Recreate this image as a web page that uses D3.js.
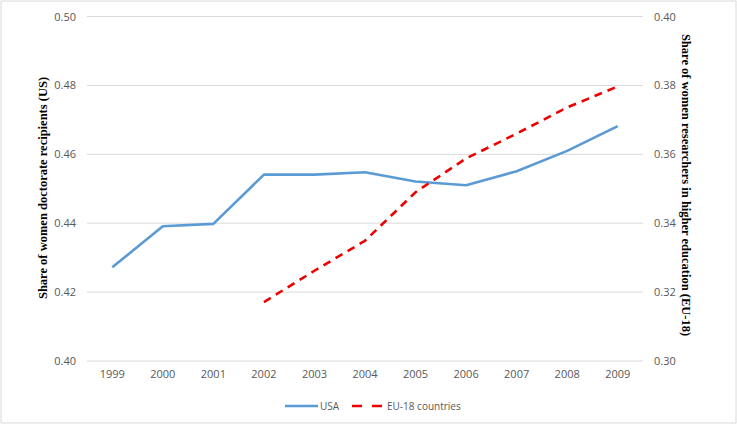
<!DOCTYPE html>
<html><head><meta charset="utf-8">
<script src="https://cdn.jsdelivr.net/npm/d3@7"></script>
<style>body{margin:0;background:#fff}svg{display:block}</style>
</head><body>
<script>
const years = ["1999","2000","2001","2002","2003","2004","2005","2006","2007","2008","2009"];
const usaValues = [0.4272,0.4391,0.4398,0.4541,0.4541,0.4548,0.4521,0.4510,0.4551,0.4610,0.4682];
const euYears = ["2002","2003","2004","2005","2006","2007","2008","2009"];
const euValues = [0.3171,0.3262,0.3349,0.3490,0.3588,0.3660,0.3736,0.3797];
const leftTicks = [0.40,0.42,0.44,0.46,0.48,0.50];
const rightTicks = [0.30,0.32,0.34,0.36,0.38,0.40];
const seriesNames = ["USA","EU-18 countries"];

const W=737,H=426;
const svg=d3.select("body").append("svg").attr("width",W).attr("height",H);
svg.append("rect").attr("x",1).attr("y",1).attr("width",W-2).attr("height",H-4)
  .attr("fill","#fff").attr("stroke","#d9d9d9").attr("stroke-width",1);

const L=87,R=643,T=16.5,B=361;
const x=d3.scaleBand().domain(years).range([L,R]);
const xc=d=>x(d)+x.bandwidth()/2;
const yL=d3.scaleLinear().domain([0.40,0.50]).range([B,T]);
const yR=d3.scaleLinear().domain([0.30,0.40]).range([B,T]);

// gridlines
svg.append("g").selectAll("line").data(leftTicks).join("line")
  .attr("x1",L).attr("x2",R).attr("y1",d=>yL(d)).attr("y2",d=>yL(d))
  .attr("stroke","#d9d9d9").attr("stroke-width",1);

const tickFont="'Open Sans', sans-serif";
const gL=svg.append("g").attr("transform",`translate(${L-11},0)`)
  .call(d3.axisLeft(yL).tickValues(leftTicks).tickFormat(d3.format(".2f")).tickSize(0).tickPadding(0));
const gR=svg.append("g").attr("transform",`translate(${R+11},0)`)
  .call(d3.axisRight(yR).tickValues(rightTicks).tickFormat(d3.format(".2f")).tickSize(0).tickPadding(0));
const gX=svg.append("g").attr("transform",`translate(0,${B+7})`)
  .call(d3.axisBottom(x).tickSize(0).tickPadding(0));
[gL,gR,gX].forEach(g=>{
  g.select(".domain").remove();
  g.selectAll("text").attr("fill","#595959").style("font-family",tickFont).style("font-size","11px");
});
gX.selectAll("text").attr("dy","0.9em");

// lines
const lineL=d3.line().x((d,i)=>xc(years[i])).y(d=>yL(d));
svg.append("path").attr("d",lineL(usaValues)).attr("fill","none")
  .attr("stroke","#5b9bd5").attr("stroke-width",2.6).attr("stroke-linejoin","round");
const lineR=d3.line().x((d,i)=>xc(euYears[i])).y(d=>yR(d));
svg.append("path").attr("d",lineR(euValues)).attr("fill","none")
  .attr("stroke","#ee0000").attr("stroke-width",2.6).attr("stroke-dasharray","8,6");

// axis titles
svg.append("text").attr("transform",`translate(47,188) rotate(-90)`)
  .attr("text-anchor","middle").style("font-family","'Liberation Serif', serif")
  .style("font-weight","bold").style("font-size","12.5px").attr("fill","#000")
  .text("Share of women doctorate recipients (US)");
svg.append("text").attr("transform",`translate(682,185) rotate(90)`)
  .attr("text-anchor","middle").style("font-family","'Liberation Serif', serif")
  .style("font-weight","bold").style("font-size","12.5px").attr("fill","#000")
  .text("Share of women researchers in higher education (EU-18)");

// legend
const ly=406;
const leg=svg.append("g");
leg.append("line").attr("x1",285).attr("x2",318).attr("y1",ly).attr("y2",ly)
  .attr("stroke","#5b9bd5").attr("stroke-width",2.6);
leg.append("text").attr("x",320).attr("y",ly).attr("dy","0.35em").attr("fill","#595959")
  .style("font-family",tickFont).style("font-size","10px").text(seriesNames[0]);
leg.append("line").attr("x1",352).attr("x2",382).attr("y1",ly).attr("y2",ly)
  .attr("stroke","#ee0000").attr("stroke-width",2.6).attr("stroke-dasharray","10,10");
leg.append("text").attr("x",387).attr("y",ly).attr("dy","0.35em").attr("fill","#595959")
  .style("font-family",tickFont).style("font-size","10px").text(seriesNames[1]);
</script>
</body></html>
